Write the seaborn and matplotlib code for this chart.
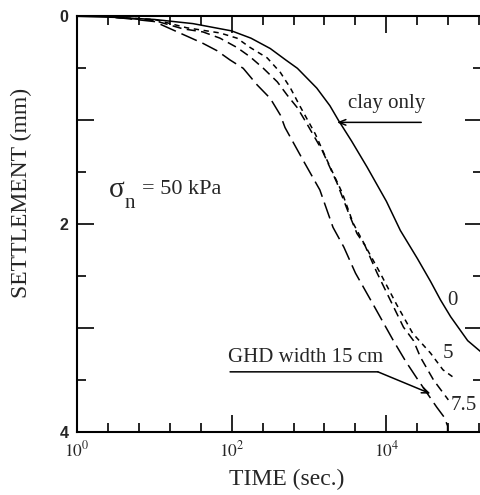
import numpy as np
import pandas as pd
import matplotlib
matplotlib.use("Agg")
import matplotlib.pyplot as plt
import seaborn as sns
from matplotlib.ticker import FixedLocator, NullFormatter

# --- dados (expoente de 10 para o tempo, recalque em mm) ---
log_t_clay = [0.0, 0.5, 1.0, 1.5, 2.0, 2.25, 2.5, 2.7, 2.85, 3.1, 3.27, 3.38, 3.55,
              3.75, 4.0, 4.18, 4.4, 4.57, 4.7, 4.83, 5.05, 5.24]
s_clay = [0.0, 0.01, 0.03, 0.07, 0.14, 0.21, 0.31, 0.42, 0.5, 0.69, 0.86, 1.0, 1.2,
          1.45, 1.78, 2.06, 2.33, 2.55, 2.73, 2.89, 3.12, 3.24]

log_t_5 = [0.5, 1.0, 1.42, 1.85, 2.07, 2.24, 2.46, 2.63, 2.76, 2.88, 3.08, 3.23,
           3.43, 3.57, 3.75, 3.92, 4.13, 4.34, 4.57, 4.73, 4.86]
s_5 = [0.01, 0.03, 0.11, 0.16, 0.21, 0.3, 0.4, 0.54, 0.69, 0.86, 1.13, 1.38,
       1.7, 1.99, 2.24, 2.47, 2.77, 3.05, 3.24, 3.4, 3.47]

log_t_75 = [0.5, 1.0, 1.37, 1.63, 1.85, 2.07, 2.24, 2.41, 2.59, 2.72, 2.85, 2.97,
            3.17, 3.36, 3.5, 3.62, 3.72, 3.88, 4.05, 4.22, 4.35, 4.44, 4.61, 4.8]
s_75 = [0.01, 0.04, 0.12, 0.15, 0.21, 0.3, 0.39, 0.5, 0.63, 0.76, 0.88, 1.03,
        1.29, 1.6, 1.87, 2.09, 2.2, 2.47, 2.73, 2.99, 3.12, 3.28, 3.5, 3.69]

log_t_15 = [0.5, 1.0, 1.33, 1.63, 1.81, 1.98, 2.15, 2.33, 2.5, 2.63, 2.69, 2.92,
            3.14, 3.31, 3.45, 3.6, 3.85, 4.09, 4.25, 4.41, 4.53, 4.65, 4.75, 4.79, 4.79]
s_15 = [0.01, 0.05, 0.16, 0.26, 0.33, 0.42, 0.5, 0.66, 0.79, 0.95, 1.07, 1.38,
        1.67, 2.03, 2.22, 2.47, 2.8, 3.12, 3.32, 3.5, 3.63, 3.76, 3.86, 3.94, 4.0]

x_major_exp = [0, 2, 4]
x_minor_exp = [0.4, 0.8, 1.2, 1.6, 2.4, 2.8, 3.2, 3.6, 4.4, 4.8, 5.2]
y_major = [0, 1, 2, 3, 4]
y_labels = ["0", "", "2", "", "4"]
y_minor = [0.5, 1.5, 2.5, 3.5]

# estilos: largura GHD -> tracejado
estilos = {
    "0": (log_t_clay, s_clay, "-"),
    "5": (log_t_5, s_5, (0, (3.5, 3))),
    "7.5": (log_t_75, s_75, (0, (6, 3.5))),
    "15": (log_t_15, s_15, (0, (11, 4))),
}

sns.set_style("ticks")
plt.rcParams["font.family"] = ["Liberation Serif", "DejaVu Serif"]
plt.rcParams["mathtext.fontset"] = "stix"

fig = plt.figure(figsize=(4.8, 4.95), dpi=100)
ax = fig.add_axes([0.160, 0.127, 0.845, 0.840])

for nome, (lt, s, ls) in estilos.items():
    df = pd.DataFrame({"tempo": np.power(10.0, lt), "recalque": s})
    sns.lineplot(data=df, x="tempo", y="recalque", color="black", lw=1.1,
                 linestyle=ls, estimator=None, sort=False, ax=ax)

ax.set_xscale("log")
ax.set_xlim(1, 10 ** 5.24)
ax.set_ylim(4, 0)

ax.xaxis.set_major_locator(FixedLocator([10.0 ** e for e in x_major_exp]))
ax.xaxis.set_minor_locator(FixedLocator([10.0 ** e for e in x_minor_exp]))
ax.xaxis.set_minor_formatter(NullFormatter())
ax.set_xticks([10.0 ** e for e in x_major_exp],
              labels=[f"$10^{{{e}}}$" for e in x_major_exp], fontsize=12.5)
ax.set_yticks(y_major, labels=y_labels, fontsize=11.5, fontfamily="Liberation Sans",
              fontweight="bold")
ax.yaxis.set_minor_locator(FixedLocator(y_minor))

ax.tick_params(which="both", direction="in", top=True, right=True, width=1.2,
               color="black")
ax.tick_params(which="major", length=12, pad=6)
ax.tick_params(which="minor", length=6.5)
for sp in ax.spines.values():
    sp.set_linewidth(1.5)
    sp.set_color("black")

ax.set_xlabel("TIME (sec.)", fontsize=17)
ax.set_ylabel("SETTLEMENT (mm)", fontsize=17)
ax.xaxis.set_label_coords(0.518, -0.088)
ax.yaxis.set_label_coords(-0.111, 0.575)

# anotacoes
ax.text(10 ** 0.42, 1.67, "σ", fontsize=21, va="center", ha="left")
ax.text(10 ** 0.62, 1.80, "n", fontsize=15, va="center", ha="left")
ax.text(10 ** 0.84, 1.67, "= 50 kPa", fontsize=16, va="center", ha="left")
ax.text(10 ** 4.0, 0.84, "clay only", fontsize=15, ha="center", va="center")
ax.annotate("", xy=(10 ** 3.36, 1.02), xytext=(10 ** 4.45, 1.02),
            arrowprops=dict(arrowstyle="->,head_length=0.5,head_width=0.2", lw=1.1,
                            color="black", shrinkA=0, shrinkB=0))
ax.text(10 ** 2.95, 3.28, "GHD width 15 cm", fontsize=15, ha="center", va="center")
ax.annotate("", xy=(10 ** 3.89, 3.42), xytext=(10 ** 1.98, 3.42),
            arrowprops=dict(arrowstyle="-", lw=1.1, color="black",
                            shrinkA=0, shrinkB=0))
ax.annotate("", xy=(10 ** 4.57, 3.63), xytext=(10 ** 3.89, 3.42),
            arrowprops=dict(arrowstyle="->,head_length=0.5,head_width=0.2", lw=1.1,
                            color="black", shrinkA=0, shrinkB=0))
ax.text(10 ** 4.85, 2.73, "0", fontsize=15, ha="center", va="center")
ax.text(10 ** 4.80, 3.24, "5", fontsize=15, ha="center", va="center")
ax.text(10 ** 5.00, 3.74, "7.5", fontsize=15, ha="center", va="center")

fig.savefig("out.png", dpi=100)
